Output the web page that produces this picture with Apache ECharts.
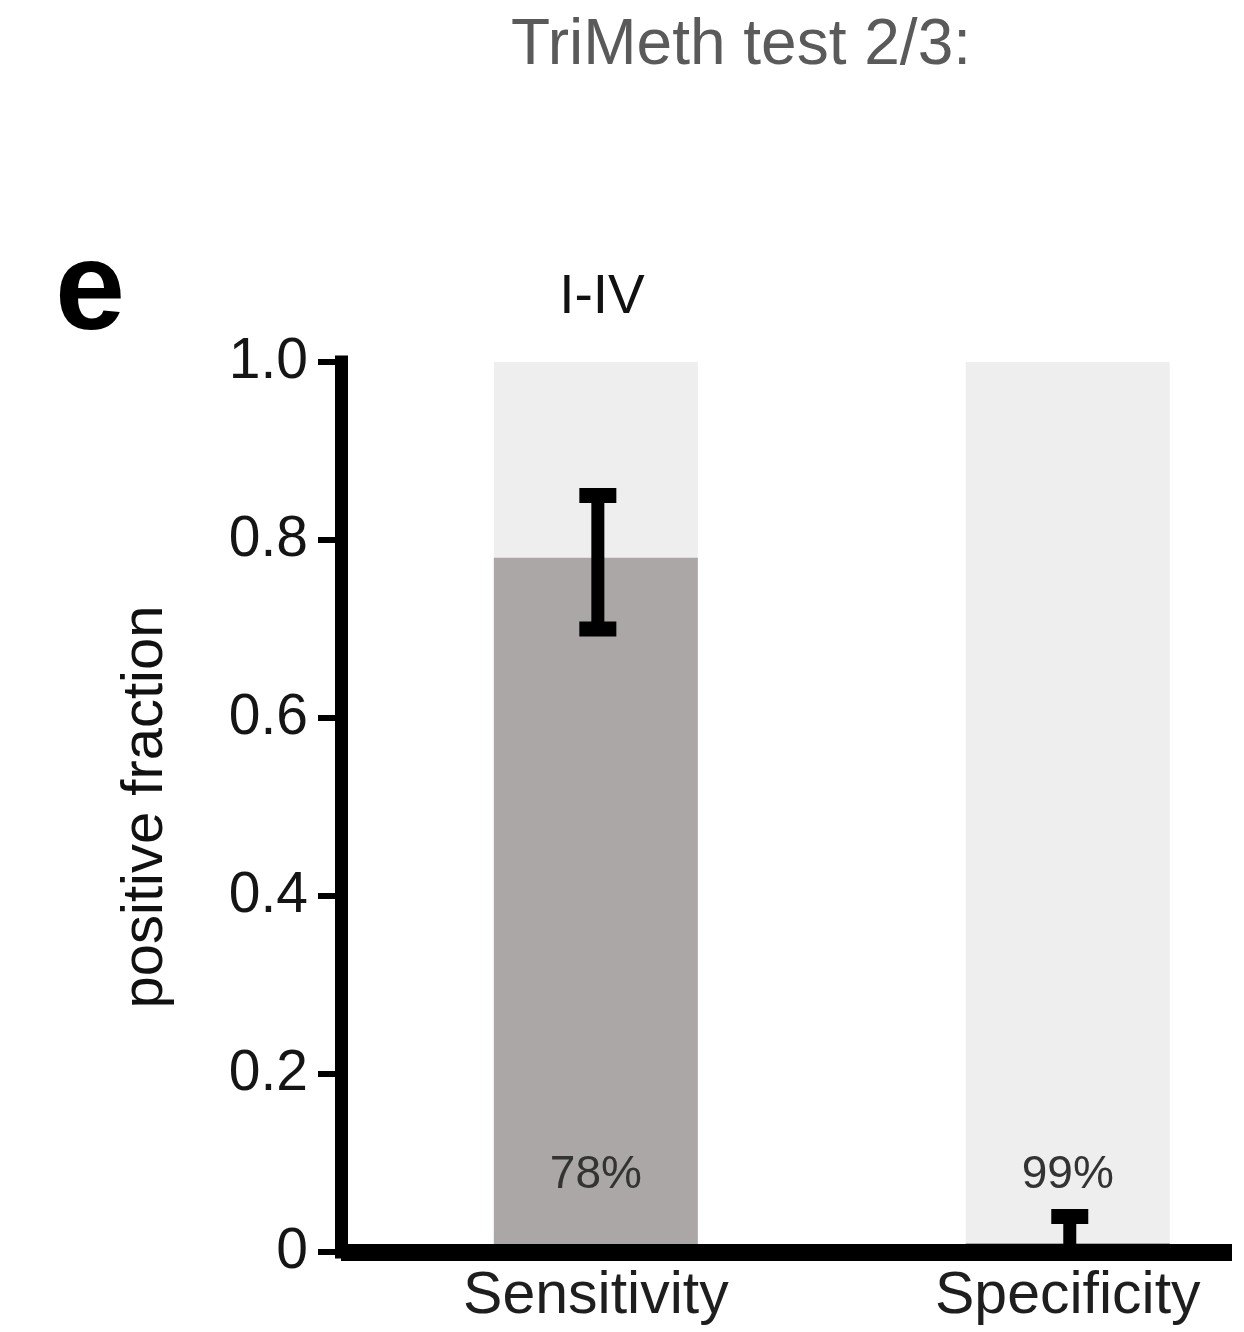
<!DOCTYPE html>
<html>
<head>
<meta charset="utf-8">
<title>TriMeth test 2/3</title>
<script src="https://cdn.jsdelivr.net/npm/echarts@6/dist/echarts.min.js"></script>
<style>
  html, body { margin: 0; padding: 0; background: #ffffff; }
  #chart { width: 1244px; height: 1332px; }
</style>
</head>
<body>
<div id="chart"></div>
<script>
// Stage I-IV performance of the TriMeth test (2 of 3 markers positive)
const categories = ['Sensitivity', 'Specificity'];
// metric value in percent (sensitivity, specificity)
const metricPct = [78, 99];
// fraction of samples testing positive: sensitivity itself, 1 - specificity for controls
const positiveFraction = [0.78, 0.01];
// full-scale background band for each group
const totalFraction = [1, 1];
// 95% confidence interval of the positive fraction
const ciLow = [0.70, 0.0];
const ciHigh = [0.85, 0.04];
const yTickLabels = ['0', '0.2', '0.4', '0.6', '0.8', '1.0'];

const FONT = '"Liberation Sans", Arial, Helvetica, sans-serif';

const chart = echarts.init(document.getElementById('chart'), null, { renderer: 'canvas' });

const option = {
  backgroundColor: '#ffffff',
  animation: false,
  title: [
    {
      text: 'TriMeth test 2/3:',
      left: 506,
      top: 9,
      textStyle: { fontFamily: FONT, fontSize: 64, fontWeight: 'normal', color: '#5a5a5a' }
    },
    {
      text: 'e',
      left: 50,
      top: 226,
      textStyle: { fontFamily: FONT, fontSize: 126, fontWeight: 'bold', color: '#000000' }
    },
    {
      text: 'I-IV',
      left: 597,
      textAlign: 'center',
      top: 265,
      textStyle: { fontFamily: FONT, fontSize: 55, fontWeight: 'normal', color: '#111111' }
    }
  ],
  grid: {
    left: 341,
    right: 12,
    top: 362,
    bottom: 80,
    containLabel: false,
    outerBoundsMode: 'none'
  },
  xAxis: {
    type: 'value',
    min: -0.54,
    max: 1.348,
    z: 10,
    splitLine: { show: false },
    axisTick: { show: false },
    axisLine: { show: true, onZero: false, lineStyle: { color: '#000000', width: 17, cap: 'butt' } },
    axisLabel: {
      customValues: [0, 1],
      margin: 15,
      fontFamily: FONT,
      fontSize: 59,
      color: '#1e1e1e',
      formatter: function (v) { return categories[Math.round(v)] || ''; }
    }
  },
  yAxis: {
    type: 'value',
    min: 0,
    max: 1,
    interval: 0.2,
    z: 10,
    name: 'positive fraction',
    nameLocation: 'middle',
    nameRotate: 90,
    nameGap: 166,
    nameTextStyle: { fontFamily: FONT, fontSize: 58, color: '#111111' },
    splitLine: { show: false },
    axisLine: { show: true, onZero: false, lineStyle: { color: '#000000', width: 13, cap: 'square' } },
    axisTick: { show: true, length: 23, lineStyle: { color: '#000000', width: 6 } },
    axisLabel: {
      margin: 33,
      fontFamily: FONT,
      fontSize: 57,
      color: '#151515',
      formatter: function (v) { return yTickLabels[Math.round(v * 5)]; }
    }
  },
  series: [
    {
      name: 'total',
      type: 'bar',
      barWidth: 204,
      barGap: '-100%',
      itemStyle: { color: '#eeeeee' },
      data: categories.map(function (c, i) { return [i, totalFraction[i]]; }),
      z: 2
    },
    {
      name: 'positive fraction',
      type: 'bar',
      barWidth: 204,
      barGap: '-100%',
      itemStyle: { color: '#aba7a6' },
      label: {
        show: true,
        position: 'insideBottom',
        distance: 54,
        fontFamily: FONT,
        fontSize: 46,
        color: '#333333',
        formatter: function (p) { return metricPct[p.dataIndex] + '%'; }
      },
      data: categories.map(function (c, i) { return [i, positiveFraction[i]]; }),
      z: 3
    },
    {
      name: '95% CI',
      type: 'custom',
      z: 5,
      encode: { x: 0, y: [1, 2] },
      data: categories.map(function (c, i) { return [i, ciLow[i], ciHigh[i]]; }),
      renderItem: function (params, api) {
        const x = api.value(0);
        const lo = api.coord([x, api.value(1)]);
        const hi = api.coord([x, api.value(2)]);
        const stemW = 13, capW = 37, capH = 15;
        const cx = lo[0] + 2;
        const style = { fill: '#000000' };
        return {
          type: 'group',
          children: [
            { type: 'rect', shape: { x: cx - stemW / 2, y: hi[1], width: stemW, height: lo[1] - hi[1] }, style: style },
            { type: 'rect', shape: { x: cx - capW / 2, y: hi[1] - capH / 2, width: capW, height: capH }, style: style },
            { type: 'rect', shape: { x: cx - capW / 2, y: lo[1] - capH / 2, width: capW, height: capH }, style: style }
          ]
        };
      }
    }
  ]
};

chart.setOption(option);
</script>
</body>
</html>
